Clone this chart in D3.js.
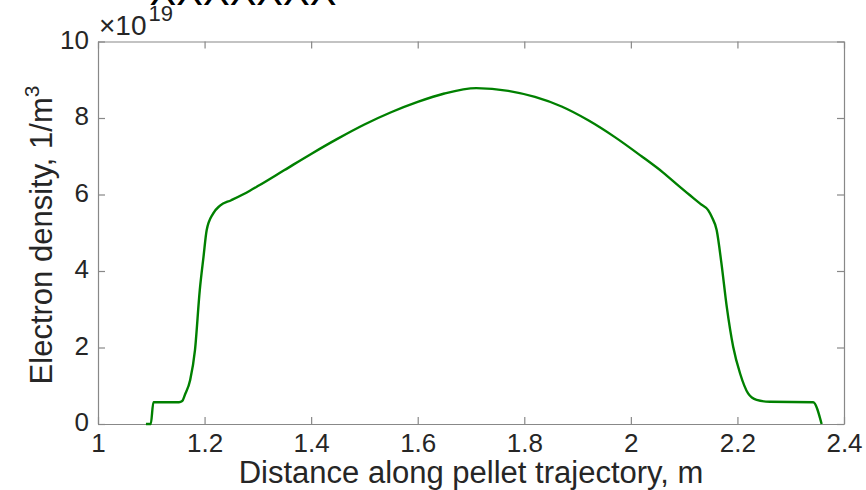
<!DOCTYPE html>
<html>
<head>
<meta charset="utf-8">
<script src="https://cdn.jsdelivr.net/npm/d3@7"></script>
<style>
  body { margin: 0; background: #fff; }
  svg { display: block; font-family: "Liberation Sans", Arial, sans-serif; }
  .axis path, .axis line { stroke: #888; stroke-width: 1.2; }
  .axis text { fill: #262626; font-size: 26px; font-family: "Liberation Sans", Arial, sans-serif; }
</style>
</head>
<body>
<div id="chart"></div>
<script>
// distance along trajectory (m) and electron density (x 1e19 1/m^3)
var distance = [1.090, 1.099, 1.104, 1.152, 1.158, 1.163, 1.173, 1.182, 1.191, 1.198,
  1.204, 1.216, 1.229, 1.250, 1.285, 1.300, 1.350, 1.400, 1.450, 1.500,
  1.550, 1.600, 1.650, 1.710, 1.770, 1.820, 1.870, 1.920, 1.970, 2.020,
  2.060, 2.092, 2.111, 2.130, 2.145, 2.152, 2.161, 2.170, 2.180, 2.192,
  2.205, 2.220, 2.236, 2.261, 2.342, 2.358];
var density = [0, 0, 0.57, 0.57, 0.60, 0.76, 1.15, 1.93, 3.50, 4.37,
  5.07, 5.50, 5.71, 5.85, 6.10, 6.22, 6.64, 7.06, 7.46, 7.83,
  8.15, 8.42, 8.64, 8.78, 8.71, 8.55, 8.30, 7.94, 7.50, 7.00,
  6.58, 6.20, 5.98, 5.76, 5.59, 5.41, 5.07, 4.20, 3.06, 2.02,
  1.32, 0.80, 0.63, 0.58, 0.57, 0];

var xTicks = [1, 1.2, 1.4, 1.6, 1.8, 2, 2.2, 2.4];
var yTicks = [0, 2, 4, 6, 8, 10];

var w = 866, h = 490;
var mLeft = 98, mRight = 844, mTop = 41.5, mBottom = 424;

var svg = d3.select("#chart")
  .append("svg")
  .attr("width", w)
  .attr("height", h);

var x = d3.scaleLinear().domain([1, 2.4]).range([mLeft, mRight]);
var y = d3.scaleLinear().domain([0, 10]).range([mBottom, mTop]);

var tick = 7;

svg.append("g")
  .attr("class", "axis")
  .attr("transform", "translate(0," + mBottom + ")")
  .call(d3.axisBottom(x).tickValues(xTicks).tickSizeInner(-tick).tickSizeOuter(0)
    .tickPadding(10).tickFormat(d3.format("")))
  .selectAll("text").attr("dy", "0.71em");

svg.append("g")
  .attr("class", "axis")
  .attr("transform", "translate(0," + mTop + ")")
  .call(d3.axisTop(x).tickValues(xTicks).tickSizeInner(-tick).tickSizeOuter(0).tickFormat(""));

svg.append("g")
  .attr("class", "axis")
  .attr("transform", "translate(" + mLeft + ",0)")
  .call(d3.axisLeft(y).tickValues(yTicks).tickSizeInner(-tick).tickSizeOuter(0)
    .tickPadding(9).tickFormat(d3.format("")))
  .selectAll("text").attr("dy", "0.25em");

svg.append("g")
  .attr("class", "axis")
  .attr("transform", "translate(" + mRight + ",0)")
  .call(d3.axisRight(y).tickValues(yTicks).tickSizeInner(-tick).tickSizeOuter(0).tickFormat(""));

var points = distance.map(function(d, i) { return [d, density[i]]; });

var line = d3.line()
  .x(function(d) { return x(d[0]); })
  .y(function(d) { return y(d[1]); })
  .curve(d3.curveMonotoneX);

svg.append("path")
  .datum(points)
  .attr("d", line)
  .attr("fill", "none")
  .attr("stroke", "#008000")
  .attr("stroke-width", 2.4)
  .attr("stroke-linejoin", "round");

// exponent label
var expo = svg.append("text")
  .attr("x", mLeft + 1)
  .attr("y", 35)
  .style("fill", "#262626")
  .style("font-size", "28px");
expo.append("tspan").text("\u00d710");
expo.append("tspan").attr("dy", -14).attr("dx", 2).style("font-size", "22px").text("19");

// x label
svg.append("text")
  .attr("x", (mLeft + mRight) / 2)
  .attr("y", 483)
  .attr("text-anchor", "middle")
  .style("fill", "#262626")
  .style("font-size", "31px")
  .text("Distance along pellet trajectory, m");

// y label
var yl = svg.append("text")
  .attr("transform", "translate(52,235) rotate(-90)")
  .attr("text-anchor", "middle")
  .style("fill", "#262626")
  .style("font-size", "31px");
yl.append("tspan").text("Electron density, 1/m");
yl.append("tspan").attr("dy", -13).style("font-size", "21px").text("3");

// title, cut off at the top of the figure
svg.append("text")
  .attr("x", 243)
  .attr("y", 5)
  .attr("text-anchor", "middle")
  .style("fill", "#000")
  .style("font-size", "40px")
  .text("XXXXXXX");
</script>
</body>
</html>
